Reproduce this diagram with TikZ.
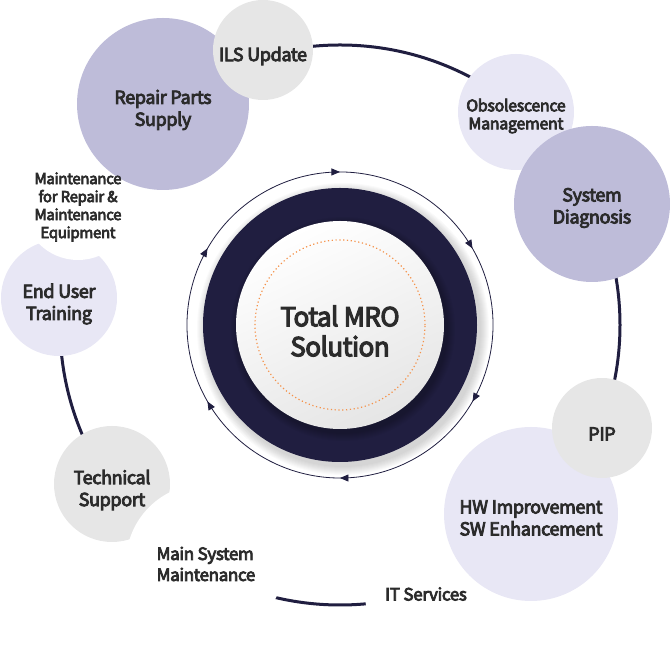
\documentclass[tikz,border=0pt]{standalone}
\usepackage{fontspec}
\setmainfont{Noto Sans CJK KR}[LetterSpace=-2,BoldFont={Noto Sans CJK KR},
  BoldFeatures={FakeBold=4.5}]
\usetikzlibrary{arrows.meta,decorations.markings}
\definecolor{navy}{HTML}{201E40}
\definecolor{lilac}{HTML}{BEBCD9}
\definecolor{paleLilac}{HTML}{E8E7F5}
\definecolor{softGray}{HTML}{E6E6E6}
\definecolor{inkGray}{HTML}{2B2B2B}
\definecolor{dotOrange}{HTML}{F5924A}

\begin{document}
\begin{tikzpicture}[x=1pt,y=1pt,
  bubble/.style={circle,inner sep=0pt},
  caption/.style={align=center,text=inkGray,yshift=-6pt,
    font=\fontsize{18}{22}\selectfont\bfseries},
  mask/.style={circle,fill=white,inner sep=0pt},
  tag/.style={text=inkGray,inner sep=0pt,font=\fontsize{17}{21}\selectfont\bfseries},
  loop ring/.style={navy,line width=0.8pt,postaction=decorate,
    decoration={markings,mark=between positions 0.0833 and 1 step 0.1667
      with {\arrow{Triangle[length=8.5pt,width=7pt]}}}}]
  \useasboundingbox (0,0) rectangle (670,650);
  \coordinate (hub) at (340,325);

  % outer cycle
  \draw[navy,line width=3pt] (hub) circle (280);
  \node[bubble,fill=paleLilac,minimum size=116pt,label={[caption]center:End User\\Training}]
    (training) at (59,352) {};
  \node[bubble,fill=softGray,minimum size=116pt,label={[caption]center:Technical\\Support}]
    (support) at (112,166) {};
  \node[mask,minimum size=110pt] (maskEquip) at (78,445) {};
  \node[mask,minimum size=158pt] (maskMain) at (205,87) {};
  \node[mask,minimum size=120pt] (maskIT) at (425,56) {};
  \node[bubble,fill=lilac,minimum size=172pt,label={[caption]center:Repair Parts\\Supply}]
    (parts) at (163,546) {};
  \node[bubble,fill=softGray,minimum size=100pt,label={[caption]center:ILS Update}]
    (ils) at (263,600) {};
  \node[bubble,fill=paleLilac,minimum size=116pt,label={[caption,yshift=2pt,
    font=\fontsize{16}{18}\selectfont\bfseries]center:Obsolescence\\Management}]
    (obsolete) at (516,538) {};
  \node[bubble,fill=lilac,minimum size=156pt,label={[caption,yshift=2pt]center:System\\Diagnosis}]
    (diagnosis) at (592,446) {};
  \node[bubble,fill=paleLilac,minimum size=174pt,label={[caption,yshift=2pt]center:HW Improvement\\SW Enhancement}]
    (hwsw) at (531,136) {};
  \node[bubble,fill=softGray,minimum size=100pt,label={[caption]center:PIP}]
    (pip) at (602,222) {};
  \node[tag,align=center,font=\fontsize{15}{18}\selectfont\bfseries] (equip) at (78,443)
    {Maintenance\\for Repair \&\\Maintenance\\Equipment};
  \node[tag,align=left] (mainsys) at (206,86) {Main System\\Maintenance};
  \node[tag] (itserv) at (426,56) {IT Services};

  % centre
  \foreach \k in {1,...,9}
    \fill[black,opacity=0.02] (343,321) circle ({137+\k});
  \fill[navy] (hub) circle (137);
  \foreach \k in {1,...,8}
    \fill[black,opacity=0.03] (343,321) circle ({104+\k});
  \shade[top color=white,bottom color=black!10,shading angle=25] (hub) circle (104);
  \draw[dotOrange,line width=1.2pt,dash pattern=on 1.2pt off 2.6pt] (hub) circle (85);
  \draw[loop ring] (hub) ++(120:153) arc[start angle=120,end angle=-240,radius=153];
  \node[text=inkGray,align=center,font=\fontsize{26}{30}\selectfont\bfseries] (title) at (340,319)
    {Total MRO\\Solution};
\end{tikzpicture}
\end{document}
